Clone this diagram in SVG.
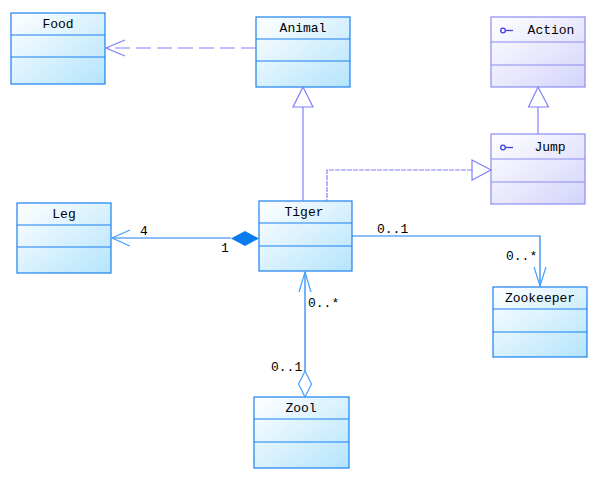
<svg xmlns="http://www.w3.org/2000/svg" width="598" height="482" viewBox="0 0 598 482">
<defs>
<linearGradient id="gc" x1="0" y1="0" x2="1" y2="1">
<stop offset="0" stop-color="#ffffff"/>
<stop offset="1" stop-color="#b4e4fc"/>
</linearGradient>
<linearGradient id="gi" x1="0" y1="0" x2="1" y2="1">
<stop offset="0" stop-color="#ffffff"/>
<stop offset="1" stop-color="#d4d4fc"/>
</linearGradient>
<style>
.cls rect{fill:url(#gc);stroke:#1a80f0;stroke-width:1.2}
.cls line{stroke:#1a80f0;stroke-width:1.2}
.ifc rect{fill:url(#gi);stroke:#8c8cf0;stroke-width:1.2}
.ifc line{stroke:#8c8cf0;stroke-width:1.2}
text{font-family:"Liberation Mono","DejaVu Sans Mono",monospace;font-size:13px;fill:#000}
.t{text-anchor:middle}
.ic{fill:none;stroke:#4040e0;stroke-width:1.3}
.p{fill:none;stroke:#8080ff;stroke-width:1.2}
.b{fill:none;stroke:#1a80f0;stroke-width:1.2}
.ba{fill:none;stroke:#40a0ff;stroke-width:1.2}
</style>
</defs>
<g id="Food" class="cls">
<rect x="11" y="13" width="94" height="71"/>
<line x1="11" y1="35" x2="105" y2="35"/><line x1="11" y1="57" x2="105" y2="57"/>
<text class="t" x="58" y="28">Food</text>
</g>
<g id="Animal" class="cls">
<rect x="256" y="17" width="94" height="70"/>
<line x1="256" y1="39" x2="350" y2="39"/><line x1="256" y1="61" x2="350" y2="61"/>
<text class="t" x="303" y="32">Animal</text>
</g>
<g id="Action" class="ifc">
<rect x="491" y="17" width="94" height="70"/>
<line x1="491" y1="42" x2="585" y2="42"/><line x1="491" y1="65" x2="585" y2="65"/>
<circle class="ic" cx="503" cy="30.5" r="2.3"/><path class="ic" d="M505.5 30.5H513"/>
<text class="t" x="551" y="34">Action</text>
</g>
<g id="Jump" class="ifc">
<rect x="491" y="134" width="94" height="70"/>
<line x1="491" y1="159" x2="585" y2="159"/><line x1="491" y1="182" x2="585" y2="182"/>
<circle class="ic" cx="503" cy="147.5" r="2.3"/><path class="ic" d="M505.5 147.5H513"/>
<text class="t" x="550" y="151">Jump</text>
</g>
<g id="Leg" class="cls">
<rect x="17" y="203" width="94" height="70"/>
<line x1="17" y1="225" x2="111" y2="225"/><line x1="17" y1="247" x2="111" y2="247"/>
<text class="t" x="64" y="218">Leg</text>
</g>
<g id="Tiger" class="cls">
<rect x="259" y="201" width="93" height="70"/>
<line x1="259" y1="223" x2="352" y2="223"/><line x1="259" y1="246" x2="352" y2="246"/>
<text class="t" x="304" y="216">Tiger</text>
</g>
<g id="Zookeeper" class="cls">
<rect x="493" y="287" width="94" height="70"/>
<line x1="493" y1="309" x2="587" y2="309"/><line x1="493" y1="332" x2="587" y2="332"/>
<text class="t" x="540" y="302">Zookeeper</text>
</g>
<g id="Zool" class="cls">
<rect x="254" y="397" width="95" height="71"/>
<line x1="254" y1="419" x2="349" y2="419"/><line x1="254" y1="442" x2="349" y2="442"/>
<text class="t" x="301" y="412">Zool</text>
</g>
<g id="connectors">
<path class="p" d="M256 48H106" stroke-dasharray="15 6"/>
<path class="p" d="M125 40L106 48L125 56"/>
<path class="p" d="M303 201V107"/>
<path class="p" d="M303 87L293 107H313Z" fill="#fff"/>
<path class="p" d="M327 201V170H472" stroke="#b8b8c8" stroke-dasharray="2 4"/>
<path class="p" d="M327 201V170H472" stroke="#8080f0" stroke-dasharray="3 3" stroke-dashoffset="3"/>
<path class="p" d="M491 170L472 160V180Z" fill="#fff"/>
<path class="p" d="M538 134V107"/>
<path class="p" d="M538 87L528.5 107H548.5Z" fill="#fff"/>
<path class="b" d="M231 238H112"/>
<path class="ba" d="M130 230L112 238L130 246"/>
<path d="M259 238.5L245 231L231 238.5L245 246Z" fill="#0a7cf0"/>
<text x="140" y="235">4</text>
<text x="221" y="252">1</text>
<path class="b" d="M352 236H540V286"/>
<path class="ba" d="M534 267L540 286L546 267"/>
<text x="377" y="233">0..1</text>
<text x="506" y="260">0..*</text>
<path class="b" d="M305 371V272"/>
<path class="ba" d="M299 292L305 272L311 292"/>
<path class="ba" d="M305 397L298.5 384L305 371L311.5 384Z" fill="#fff"/>
<text x="308" y="307">0..*</text>
<text x="271" y="371">0..1</text>
</g>
</svg>
